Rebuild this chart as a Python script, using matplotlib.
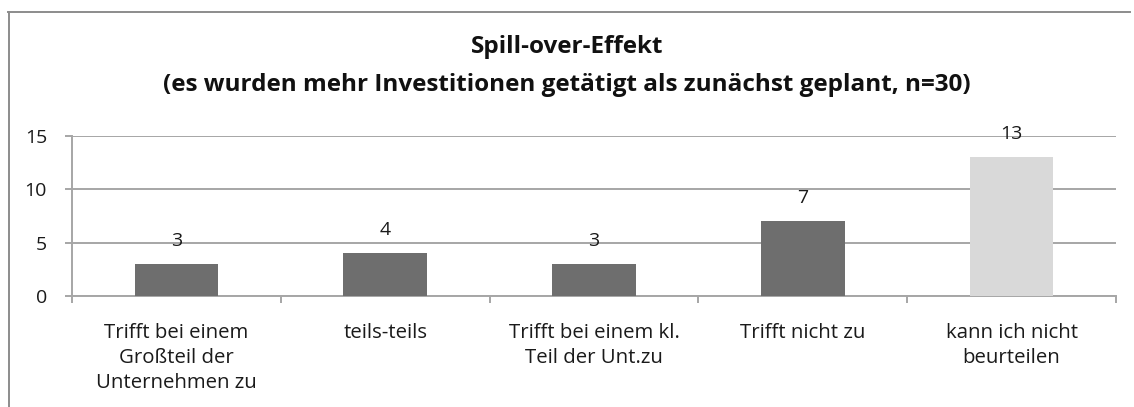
import matplotlib
matplotlib.use('Agg')
import matplotlib.pyplot as plt
from matplotlib.lines import Line2D
import numpy as np

# data
categories = ['Trifft bei einem\nGroßteil der\nUnternehmen zu',
              'teils-teils',
              'Trifft bei einem kl.\nTeil der Unt.zu',
              'Trifft nicht zu',
              'kann ich nicht\nbeurteilen']
values = [3, 4, 3, 7, 13]
bar_colors = ['#6e6e6e', '#6e6e6e', '#6e6e6e', '#6e6e6e', '#d9d9d9']
yticks = [0, 5, 10, 15]

plt.rcParams['font.family'] = ['Open Sans', 'DejaVu Sans']

W, H = 1134, 407
fig = plt.figure(figsize=(W / 100, H / 100), dpi=100)
ax = fig.add_axes([72 / W, 1 - 296 / H, (1116 - 72) / W, (296 - 136) / H])

x = np.arange(len(values))
ax.bar(x, values, width=0.4, color=bar_colors, zorder=3)
for xi, v in zip(x, values):
    ax.annotate(str(v), (xi, v), xytext=(0, 16.5), textcoords='offset points',
                ha='center', va='center', fontsize=14, color='#1a1a1a', zorder=4)

grid_c = '#a6a6a6'
ax.set_xlim(-0.5, len(values) - 0.5)
ax.set_ylim(0, 15)
ax.set_yticks(yticks)
ax.yaxis.grid(True, color=grid_c, linewidth=1.4, zorder=1)
ax.set_xticks(x)
ax.set_xticklabels(categories, fontsize=14.7, color='#1a1a1a', linespacing=1.32)
ax.set_xticks(np.arange(len(values) + 1) - 0.5, minor=True)
ax.tick_params(axis='x', which='major', length=0, pad=19.5)
ax.tick_params(axis='x', which='minor', length=5, color=grid_c, width=1.4)
ax.tick_params(axis='y', length=5, color=grid_c, width=1.4, pad=13,
               labelsize=14, labelcolor='#1a1a1a')
for s in ['top', 'right']:
    ax.spines[s].set_visible(False)
for s in ['left', 'bottom']:
    ax.spines[s].set_color(grid_c)
    ax.spines[s].set_linewidth(1.4)

fig.text(0.5, 1 - 47 / H, 'Spill-over-Effekt', ha='center', va='center',
         fontsize=17.5, fontweight='bold', color='#111111')
fig.text(0.5, 1 - 85 / H,
         '(es wurden mehr Investitionen getätigt als zunächst geplant, n=30)',
         ha='center', va='center', fontsize=17.5, fontweight='bold', color='#111111')

# outer chart frame (top and left edge visible in the crop)
border_c = '#8c8c8c'
fig.add_artist(Line2D([8 / W, 1130 / W], [1 - 12 / H, 1 - 12 / H],
                      transform=fig.transFigure, color=border_c, linewidth=1.4))
fig.add_artist(Line2D([9 / W, 9 / W], [1 - 12 / H, 0],
                      transform=fig.transFigure, color=border_c, linewidth=1.4))

fig.savefig('out.png', dpi=100)
